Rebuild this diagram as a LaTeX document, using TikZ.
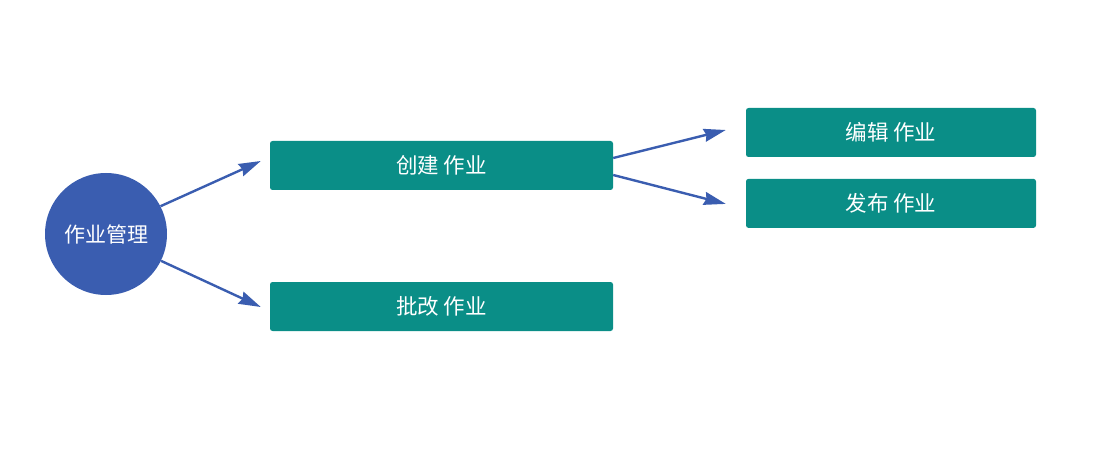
\documentclass[tikz,border=0pt]{standalone}
\usepackage{fontspec}
\usepackage{xcolor}
\usepackage{tikz}
\usetikzlibrary{arrows.meta, positioning}
\newfontfamily\cjk{Noto Sans CJK SC}
\definecolor{hubblue}{RGB}{58,93,176}
\definecolor{taskteal}{RGB}{10,142,135}

\begin{document}
\begin{tikzpicture}[
    x=1pt, y=-1pt,
    node distance=21.5pt and 133pt,
    hub/.style={circle, fill=hubblue, minimum size=122pt, inner sep=0pt,
                text=white, font=\cjk\fontsize{21}{25}\selectfont},
    task/.style={rectangle, rounded corners=2.5pt, fill=taskteal,
                 minimum width=343pt, minimum height=49pt, inner sep=0pt,
                 text=white, font=\cjk\fontsize{21.5}{25}\selectfont},
    subtask/.style={task, minimum width=290pt},
    arr/.style={-{Stealth[length=22pt, width=13pt, inset=2pt]},
                line width=2.4pt, draw=hubblue}
  ]
    \useasboundingbox (0,0) rectangle (1095,449);

    \node[hub] (hub) at (106,234) {作业管理};
    \node[task] (create) at (441.5,165.5) {创建 作业};
    \node[task] (grade) at (441.5,306.5) {批改 作业};
    \node[subtask] (edit) at (891,132.5) {编辑 作业};
    \node[subtask, below=21.5pt of edit] (publish) {发布 作业};

    \draw[arr] (hub.27) -- ([xshift=-9pt, yshift=4.5pt]create.west);
    \draw[arr] (hub.-26) -- ([xshift=-9pt, yshift=-0.5pt]grade.west);
    \draw[arr] ([yshift=7.5pt]create.east) -- ([xshift=-20pt, yshift=2.5pt]edit.west);
    \draw[arr] ([yshift=-9.5pt]create.east) -- ([xshift=-20pt, yshift=-0.5pt]publish.west);
  \end{tikzpicture}
\end{document}
